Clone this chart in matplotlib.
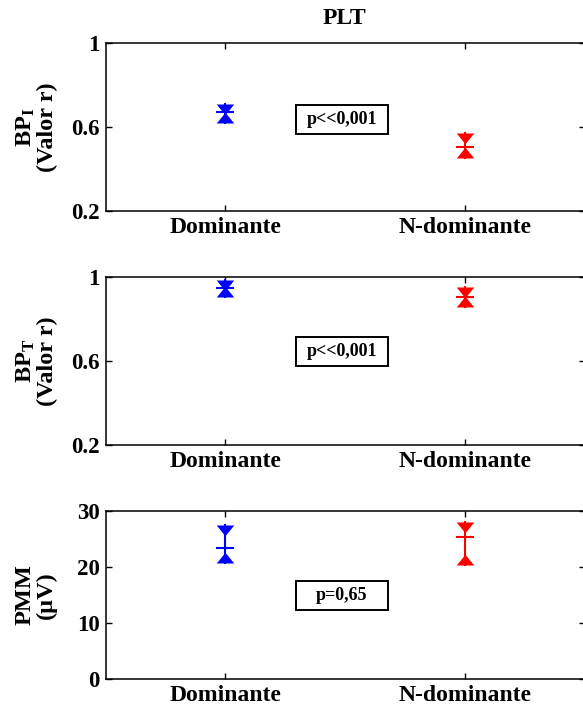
import numpy as np
import matplotlib
matplotlib.use('Agg')
import matplotlib.pyplot as plt
from matplotlib.path import Path
from matplotlib.patches import Rectangle

plt.rcParams['font.family'] = ['Liberation Serif', 'DejaVu Serif']
plt.rcParams['font.weight'] = 'bold'
plt.rcParams['mathtext.fontset'] = 'custom'
plt.rcParams['mathtext.rm'] = 'Liberation Serif:bold'
plt.rcParams['mathtext.it'] = 'Liberation Serif:bold'
plt.rcParams['mathtext.bf'] = 'Liberation Serif:bold'

# Datos
grupos = ['Dominante', 'N-dominante']
colores = ['blue', 'red']

bpi_media = [0.671, 0.505]
bpi_sup = [0.71, 0.571]
bpi_inf = [0.62, 0.452]

bpt_media = [0.948, 0.905]
bpt_sup = [0.986, 0.952]
bpt_inf = [0.905, 0.857]

pmm_media = [23.4, 25.4]
pmm_sup = [27.5, 28.0]
pmm_inf = [20.7, 20.4]

paneles = [
    (r'BP$_\mathrm{I}$' + '\n(Valor r)', bpi_media, bpi_sup, bpi_inf, (0.2, 1), [0.2, 0.6, 1], ['0.2', '0.6', '1'], 'p<<0,001', 0.542),
    (r'BP$_\mathrm{T}$' + '\n(Valor r)', bpt_media, bpt_sup, bpt_inf, (0.2, 1), [0.2, 0.6, 1], ['0.2', '0.6', '1'], 'p<<0,001', 0.554),
    ('PMM\n(µV)', pmm_media, pmm_sup, pmm_inf, (0, 30), [0, 10, 20, 30], ['0', '10', '20', '30'], 'p=0,65', 0.5),
]

# marcadores triangulares con la base en el extremo del intervalo
tri_abajo = Path([(-0.65, 0), (0.65, 0), (0, -0.8), (-0.65, 0)],
                 [Path.MOVETO, Path.LINETO, Path.LINETO, Path.CLOSEPOLY])
tri_arriba = Path([(-0.65, 0), (0.65, 0), (0, 0.8), (-0.65, 0)],
                  [Path.MOVETO, Path.LINETO, Path.LINETO, Path.CLOSEPOLY])

W, H = 583, 707
fig = plt.figure(figsize=(W / 100, H / 100), dpi=100)

izq = 105.5
der = 585
tops = [43, 277, 511]
alto = 168
ancho = der - izq

x = np.arange(1, len(grupos) + 1)

for (ylab, media, sup, inf, ylim, yt, ytl, ptxt, py), top in zip(paneles, tops):
    ax = fig.add_axes([izq / W, 1 - (top + alto) / H, ancho / W, alto / H])
    for i in range(len(grupos)):
        c = colores[i]
        ax.plot([x[i], x[i]], [inf[i], sup[i]], color=c, lw=1.5)
        ax.plot(x[i], media[i], marker='_', ms=12.5, mew=1.5, color=c)
        ax.plot(x[i], sup[i], marker=tri_abajo, ms=15.5, color=c, mew=0)
        ax.plot(x[i], inf[i], marker=tri_arriba, ms=15.5, color=c, mew=0)
    ax.set_xlim(0.5, 2.5)
    ax.set_ylim(*ylim)
    ax.set_yticks(yt)
    ax.set_yticklabels(ytl, fontsize=16.5, fontweight='bold')
    ax.set_xticks(x)
    ax.set_xticklabels(grupos, fontsize=17, fontweight='bold')
    ax.tick_params(direction='in', top=True, right=True, length=4, width=1, pad=4)
    for s in ax.spines.values():
        s.set_linewidth(1.1)
    ax.text(-0.145, 0.5, ylab, transform=ax.transAxes, rotation=90,
            ha='center', va='center', multialignment='center',
            fontsize=17.5, fontweight='bold', linespacing=1.0)
    # cuadro del valor p
    bw, bh = 92 / ancho, 29 / alto
    ax.add_patch(Rectangle((0.493 - bw / 2, py - bh / 2), bw, bh, transform=ax.transAxes,
                           fc='white', ec='black', lw=1.4, zorder=3))
    ax.text(0.493, py, ptxt, transform=ax.transAxes, ha='center', va='center',
            fontsize=13, fontweight='bold', zorder=4)

fig.text(344 / W, 1 - 18 / H, 'PLT', ha='center', va='center', fontsize=17, fontweight='bold')

fig.savefig('out.png', dpi=100)
